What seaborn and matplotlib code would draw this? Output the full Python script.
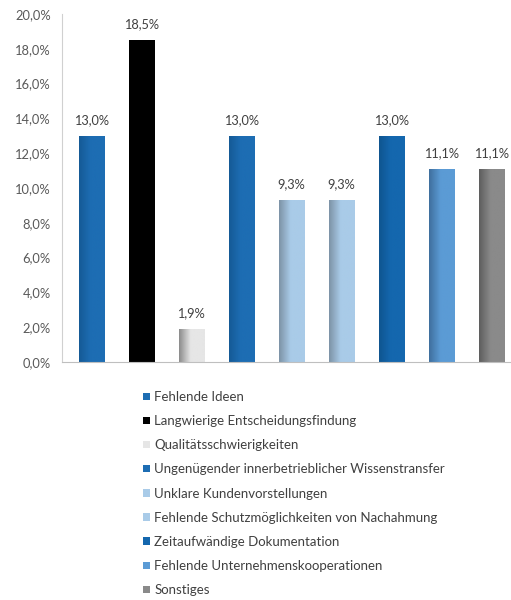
import matplotlib
matplotlib.use("Agg")
import matplotlib.pyplot as plt
import seaborn as sns
import pandas as pd
import numpy as np
from matplotlib.patches import Patch
from matplotlib.colors import to_rgb

# Reasons named by respondents and their shares (in percent)
categories = [
    "Fehlende Ideen",
    "Langwierige Entscheidungsfindung",
    "Qualitätsschwierigkeiten",
    "Ungenügender innerbetrieblicher Wissenstransfer",
    "Unklare Kundenvorstellungen",
    "Fehlende Schutzmöglichkeiten von Nachahmung",
    "Zeitaufwändige Dokumentation",
    "Fehlende Unternehmenskooperationen",
    "Sonstiges",
]
shares = [13.0, 18.5, 1.9, 13.0, 9.3, 9.3, 13.0, 11.1, 11.1]
y_ticks = [0, 2, 4, 6, 8, 10, 12, 14, 16, 18, 20]

colors = ["#1D6DB3", "#000000", "#E6E6E6", "#1D6DB3", "#A9CBE8",
          "#A9CBE8", "#1467AE", "#5B9BD5", "#8A8A8A"]
# darker shade on the left side of each bar (gradient fill)
shades = ["#155A96", "#000000", "#8C8C8C", "#155A96", "#7D93A6",
          "#7D93A6", "#0F5590", "#3F6F9E", "#5E5E5E"]

sns.set_theme(style="white")
plt.rcParams["font.family"] = ["Lato", "DejaVu Sans"]

df = pd.DataFrame({"Grund": categories, "Anteil": shares})

fig = plt.figure(figsize=(5.11, 6.00), dpi=100)
ax = fig.add_axes([62 / 511, 238 / 600, 459 / 511, 348 / 600])

sns.barplot(data=df, x="Grund", y="Anteil", hue="Grund", palette=colors,
            dodge=False, width=0.5, legend=False, ax=ax, saturation=1)

# horizontal gradient inside every bar
for patch, base, dark in zip(ax.patches, colors, shades):
    x0, y0 = patch.get_x(), patch.get_y()
    w, h = patch.get_width(), patch.get_height()
    c0, c1 = np.array(to_rgb(dark)), np.array(to_rgb(base))
    t = np.linspace(0, 1, 64)
    ramp = np.clip(t / 0.45, 0, 1)[:, None]
    grad = c0 * (1 - ramp) + c1 * ramp
    img = ax.imshow(grad[None, :, :], extent=(x0, x0 + w, y0, y0 + h),
                    aspect="auto", origin="lower", zorder=patch.get_zorder() + 0.1,
                    interpolation="bilinear")
    img.set_clip_path(patch)

ax.set_xlim(-0.58, 8.58)
ax.set_ylim(0, 20)
ax.set_yticks(y_ticks)
ax.set_yticklabels([f"{v:.1f}%".replace(".", ",") for v in y_ticks],
                   fontsize=9.3, color="#595959")
ax.set_xticks([])
ax.set_xlabel("")
ax.set_ylabel("")
ax.tick_params(axis="y", length=0, pad=8)

for side in ("top", "right"):
    ax.spines[side].set_visible(False)
ax.spines["left"].set_color("#D0D0D0")
ax.spines["bottom"].set_color("#BFBFBF")
ax.spines["left"].set_linewidth(0.8)
ax.spines["bottom"].set_linewidth(0.8)

for container in ax.containers:
    labels = [f"{b.get_height():.1f}%".replace(".", ",") for b in container]
    ax.bar_label(container, labels=labels, padding=7, fontsize=9.2,
                 color="#404040")

handles = [Patch(facecolor=c, edgecolor="none") for c in colors]
fig.legend(handles, categories, loc="upper left",
           bbox_to_anchor=(143 / 511, 1 - 391 / 600), frameon=False,
           fontsize=9.5, labelcolor="#404040", handlelength=0.5,
           handleheight=0.5, handletextpad=0.35, labelspacing=0.92,
           borderpad=0, borderaxespad=0)

fig.savefig("out.png", dpi=100)
